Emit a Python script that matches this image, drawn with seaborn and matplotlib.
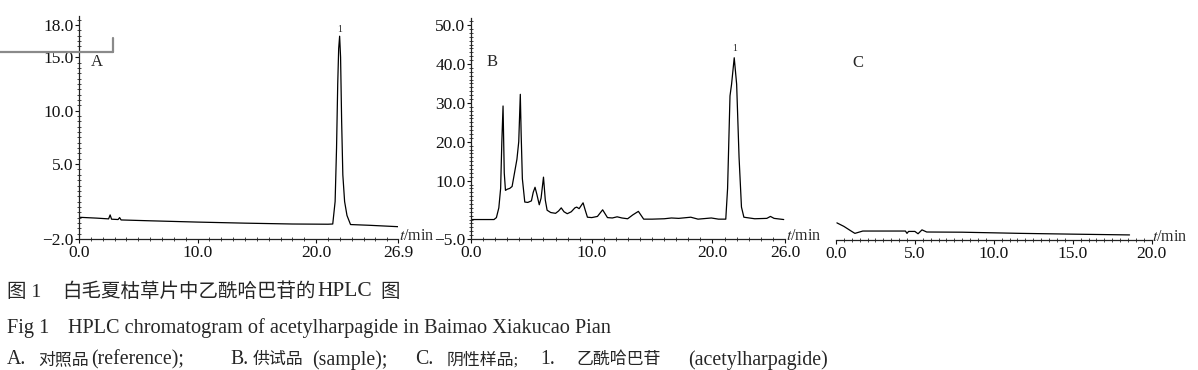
import numpy as np
import pandas as pd
import seaborn as sns
import matplotlib.pyplot as plt
from matplotlib.lines import Line2D
from matplotlib.ticker import FixedLocator, MultipleLocator

# ---------- data ----------
# A. reference
a_t = [0.0, 1.5, 2.5, 2.63, 2.75, 3.3, 3.43, 3.55, 6.0, 10.0, 14.0, 18.0, 21.0, 21.4,
       21.6, 21.72, 21.82, 21.9, 21.98, 22.06, 22.15, 22.25, 22.4, 22.6, 22.9, 24.5, 26.9]
a_v = [0.03, -0.05, -0.12, 0.25, -0.15, -0.18, 0.0, -0.22, -0.3, -0.42, -0.52, -0.6, -0.62, -0.6,
       1.5, 6.5, 12.5, 15.8, 16.96, 15.0, 9.0, 4.0, 1.5, 0.2, -0.65, -0.72, -0.85]

# B. sample
b_t = [0.0, 1.9, 2.1, 2.3, 2.45, 2.55, 2.65, 2.75, 2.85, 3.0, 3.2, 3.4, 3.6, 3.8, 3.95,
       4.08, 4.15, 4.25, 4.45, 4.7, 5.0, 5.15, 5.3, 5.45, 5.65, 5.8, 6.0, 6.15, 6.3, 6.6,
       7.0, 7.25, 7.47, 7.7, 7.97, 8.3, 8.6, 8.75, 8.95, 9.28, 9.45, 9.64, 10.0, 10.47,
       10.9, 11.3, 11.7, 12.1, 12.5, 12.97, 13.4, 13.86, 14.3, 15.0, 16.0, 16.6, 17.2,
       18.2, 18.8, 19.9, 20.5, 21.1, 21.25, 21.45, 21.58, 21.8, 22.0, 22.2, 22.4, 22.6,
       23.5, 24.5, 24.8, 25.1, 25.9]
b_v = [0.0, 0.0, 0.5, 3.0, 8.0, 20.0, 29.2, 12.0, 7.5, 7.8, 8.0, 8.5, 12.0, 15.5, 20.0,
       32.2, 22.0, 10.5, 4.5, 4.4, 4.8, 7.0, 8.3, 6.5, 3.8, 5.5, 10.9, 5.0, 2.4, 1.8,
       1.6, 2.2, 3.0, 2.0, 1.5, 2.0, 3.0, 3.2, 2.8, 4.3, 2.5, 0.6, 0.5, 0.8,
       2.5, 0.5, 0.4, 0.7, 0.4, 0.2, 1.2, 2.1, 0.1, 0.1, 0.2, 0.4, 0.3,
       0.6, 0.1, 0.4, 0.1, 0.1, 8.0, 31.8, 34.8, 41.6, 34.8, 16.0, 3.2, 0.6,
       0.2, 0.3, 0.8, 0.3, 0.0]

# C. negative sample
c_t = [0.06, 0.5, 1.0, 1.2, 1.7, 3.0, 4.4, 4.5, 4.6, 5.0, 5.2, 5.45, 5.75, 8.0, 11.7, 15.0, 18.6]
c_v = [-0.6, -1.5, -2.8, -3.3, -2.7, -2.7, -2.7, -3.3, -2.8, -2.8, -3.4, -2.4, -2.95, -3.0, -3.3, -3.5, -3.7]

a_xticks = [0.0, 10.0, 20.0, 26.9]
a_yticks = [-2.0, 5.0, 10.0, 15.0, 18.0]
b_xticks = [0.0, 10.0, 20.0, 26.0]
b_yticks = [-5.0, 10.0, 20.0, 30.0, 40.0, 50.0]
c_xticks = [0.0, 5.0, 10.0, 15.0, 20.0]

# caption text pieces
cap1_text = ["图 1", "白毛夏枯草片中乙酰哈巴苷的", "HPLC", "图"]
cap2_text = ["Fig 1", "HPLC chromatogram of acetylharpagide in Baimao Xiakucao Pian"]
cap3_text = ["A.", "对照品", "(reference);", "B.", "供试品", "(sample);", "C.", "阴性样品;",
             "1.", "乙酰哈巴苷", "(acetylharpagide)"]
# left edges of the pieces, px
cap1_x = [7, 62, 317, 380]
cap2_x = [7, 68]
cap3_x = [7, 38, 91, 230, 253, 312, 415, 447, 540, 577, 688]

sns.set_style("ticks")
plt.rcParams['font.family'] = ['Liberation Serif', 'Noto Sans CJK SC']
plt.rcParams['mathtext.fontset'] = 'stix'

W, H = 1198, 370
fig = plt.figure(figsize=(W / 100, H / 100), dpi=100)
axA = fig.add_axes([0.0659, 0.3541, 0.2663, 0.6027])
axB = fig.add_axes([0.3932, 0.3541, 0.2620, 0.5970])
axC = fig.add_axes([0.6978, 0.3514, 0.2635, 0.5970])

panels = [
    (axA, a_t, a_v, (0, 26.9), (-2, 18.85), a_xticks, a_yticks, 1.0, 0.5, "A", 0.056, 0.794),
    (axB, b_t, b_v, (0, 26.0), (-5, 51.8), b_xticks, b_yticks, 1.0, 1.0, "B", 0.067, 0.80),
    (axC, c_t, c_v, (0, 20.0), (-5, 51.8), c_xticks, [], 0.5, None, "C", 0.070, 0.80),
]

for ax, t, v, xl, yl, xt, yt, xminor, yminor, letter, lx, ly in panels:
    df = pd.DataFrame({"t": t, "v": v})
    sns.lineplot(data=df, x="t", y="v", ax=ax, color="black", lw=0.9,
                 estimator=None, sort=False)
    ax.set_xlim(*xl)
    ax.set_ylim(*yl)
    ax.set_xlabel("")
    ax.set_ylabel("")
    ax.xaxis.set_major_locator(FixedLocator(xt))
    ax.set_xticklabels([f"{x:.1f}" for x in xt])
    ax.xaxis.set_minor_locator(MultipleLocator(xminor))
    if yt:
        ax.yaxis.set_major_locator(FixedLocator(yt))
        ax.set_yticklabels([f"{y:.1f}".replace("-", "\u2212") for y in yt])
        ax.yaxis.set_minor_locator(MultipleLocator(yminor))
    else:
        ax.set_yticks([])
        ax.spines['left'].set_visible(False)
    for s in ['top', 'right']:
        ax.spines[s].set_visible(False)
    for s in ['left', 'bottom']:
        ax.spines[s].set_linewidth(0.9)
        ax.spines[s].set_color("#222222")
    ax.tick_params(which='major', direction='out', length=3, width=0.8, pad=1,
                   labelsize=12.5, colors="#111111")
    ax.tick_params(which='minor', direction='inout', length=2.5, width=0.6)
    ax.annotate("$t$/min", xy=(1, 0), xycoords="axes fraction", xytext=(0.5, 2.5),
                textcoords="offset points", ha="left", va="center", fontsize=11.5)
    ax.text(lx, ly, letter, transform=ax.transAxes, fontsize=12,
            ha="center", va="center")

# peak labels "1"
ia = int(np.argmax(a_v))
axA.annotate("1", xy=(a_t[ia], a_v[ia]), xytext=(0, 5), textcoords="offset points",
             ha="center", va="center", fontsize=7)
ib = int(np.argmax(b_v[40:])) + 40
axB.annotate("1", xy=(b_t[ib], b_v[ib]), xytext=(0, 7), textcoords="offset points",
             ha="center", va="center", fontsize=7)

# scan artifact at top left
fig.add_artist(Line2D([0.0, 0.0943], [0.859, 0.859], transform=fig.transFigure,
                      color="#8a8a8a", lw=1.6))
fig.add_artist(Line2D([0.0943, 0.0943], [0.859, 0.897], transform=fig.transFigure,
                      color="#8a8a8a", lw=1.6))


def has_cjk(s):
    return any(ord(ch) > 0x2e80 for ch in s)


# caption: title line a bit larger, legend line CJK smaller
lines = [
    (cap1_text, cap1_x, 292, 14, 15.5),
    (cap2_text, cap2_x, 328, 14, 14.6),
    (cap3_text, cap3_x, 360, 12.2, 14.3),
]
for texts, xs, yc, cjk_size, lat_size in lines:
    for txt, x0 in zip(texts, xs):
        size = cjk_size if has_cjk(txt) and len(txt) > 2 else lat_size
        if txt.startswith("图"):
            size = 14
        fig.text(x0 / W, 1 - yc / H, txt, fontsize=size, ha="left", va="center")

fig.savefig("out.png", dpi=100)
